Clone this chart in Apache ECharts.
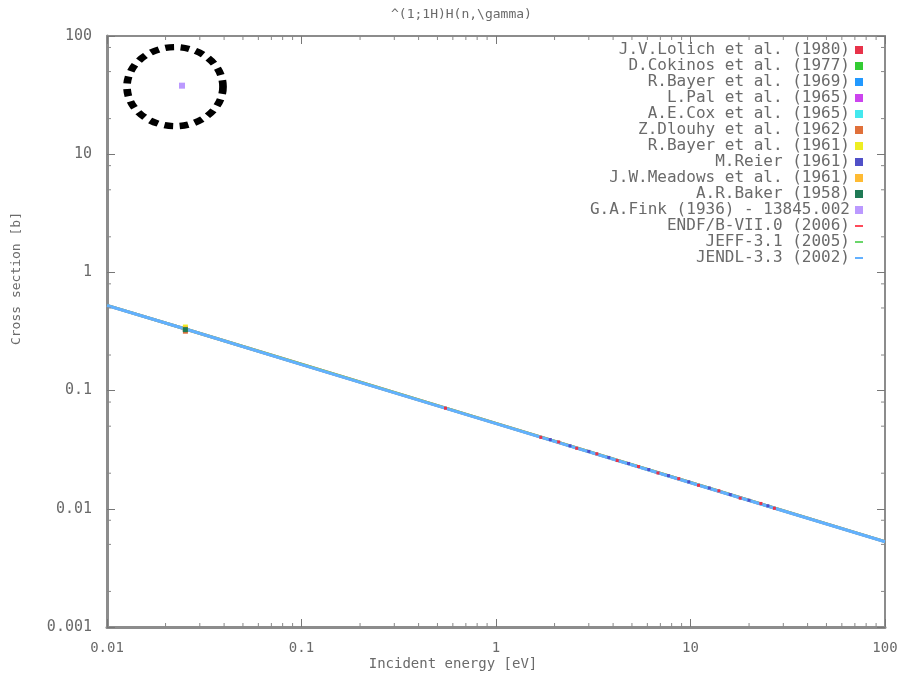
<!DOCTYPE html>
<html>
<head>
<meta charset="utf-8">
<script src="https://cdn.jsdelivr.net/npm/echarts@6/dist/echarts.min.js"></script>
<style>
  html, body { margin: 0; padding: 0; background: #fff; }
  #chart { width: 906px; height: 676px; }
</style>
</head>
<body>
<div id="chart"></div>
<script>
// evaluated data (1/v line)
const evalEnergy = [0.01, 0.0253, 0.1, 1, 10, 100]
const endfValues = [0.526, 0.332, 0.167, 0.0528, 0.0167, 0.00528]
const jeffValues = [0.526, 0.332, 0.167, 0.0528, 0.0167, 0.00528]
const jendlValues = [0.525, 0.332, 0.166, 0.0526, 0.0166, 0.00526]

// experimental points along the line (0.5 - 30 eV)
const lolichEnergy = [0.55, 1.7, 2.1, 2.6, 3.3, 4.2, 5.4, 6.8, 8.7, 11, 14, 18, 23, 27]
const lolichValues = [0.071, 0.0402, 0.0368, 0.0325, 0.0292, 0.0256, 0.0228, 0.0201, 0.0180, 0.0158, 0.0142, 0.0123, 0.0111, 0.0101]
const reierEnergy = [1.9, 2.4, 3.0, 3.8, 4.8, 6.1, 7.7, 9.8, 12.5, 16, 20, 25]
const reierValues = [0.0385, 0.0341, 0.0306, 0.0272, 0.0242, 0.0215, 0.0191, 0.0169, 0.0150, 0.0132, 0.0118, 0.0106]

// thermal points (0.0253 eV)
const thermalEnergy = 0.0253
const cokinosValue = 0.332
const bayer69Value = 0.330
const palValue = 0.329
const coxValue = 0.333
const dlouhyValue = 0.318
const bayer61Value = 0.345
const meadowsValue = 0.334
const bakerValue = 0.328
const finkPoint = [0.0243, 38]

const xTicks = [0.01, 0.1, 1, 10, 100]
const yTicks = [0.001, 0.01, 0.1, 1, 10, 100]

const FONT = 'DejaVu Sans Mono'
const GREY = '#6a6a6a'

const chart = echarts.init(document.getElementById('chart'))

const pairs = (xs, ys) => xs.map((x, i) => [x, ys[i]])

const scatter = (name, color, data, size, symbol) => ({
  name, type: 'scatter', data, symbol: symbol || 'rect', symbolSize: size || 5,
  itemStyle: { color, opacity: 1 }, z: 5
})

const evalLine = (name, color, values, z) => ({
  name, type: 'line', data: pairs(evalEnergy, values), showSymbol: false,
  lineStyle: { color, width: 3 }, itemStyle: { color }, z
})

// minor ticks drawn with the axes' own scales
const minorTicks = {
  type: 'custom',
  silent: true,
  z: 20,
  data: [[1, 1]],
  renderItem: (params, api) => {
    const children = []
    const grey = { stroke: '#888', lineWidth: 1 }
    const bottom = api.coord([1, 0.001])[1]
    const top = api.coord([1, 100])[1]
    const left = api.coord([0.01, 1])[0]
    const right = api.coord([100, 1])[0]
    for (let d = 0.01; d < 100; d *= 10) {
      for (let m = 2; m <= 9; m++) {
        const x = api.coord([d * m, 1])[0]
        children.push({ type: 'line', shape: { x1: x, y1: bottom, x2: x, y2: bottom - 4 }, style: grey })
        children.push({ type: 'line', shape: { x1: x, y1: top, x2: x, y2: top + 4 }, style: grey })
      }
    }
    for (let d = 0.001; d < 100; d *= 10) {
      for (const m of [2, 5, 8]) {
        const y = api.coord([1, d * m])[1]
        children.push({ type: 'line', shape: { x1: left, y1: y, x2: left + 4, y2: y }, style: grey })
        children.push({ type: 'line', shape: { x1: right, y1: y, x2: right - 4, y2: y }, style: grey })
      }
    }
    return { type: 'group', children }
  }
}

const logX = (position, showLabel) => ({
  type: 'log', logBase: 10, min: 0.01, max: 100, position,
  axisLine: { onZero: false, lineStyle: { color: '#8c8c8c', width: position === 'bottom' ? 3 : 2 } },
  axisTick: { inside: true, length: 8, lineStyle: { color: '#777', width: 1 } },
  axisLabel: {
    show: showLabel, margin: 14, color: GREY, fontFamily: FONT, fontSize: 14,
    formatter: v => xTicks.includes(+v) ? String(+v) : ''
  },
  splitLine: { show: false }
})

const logY = (position, showLabel) => ({
  type: 'log', logBase: 10, min: 0.001, max: 100, position,
  axisLine: { onZero: false, lineStyle: { color: '#8c8c8c', width: position === 'left' ? 3 : 2 } },
  axisTick: { inside: true, length: 8, lineStyle: { color: '#777', width: 1 } },
  axisLabel: {
    show: showLabel, margin: 15, color: GREY, fontFamily: FONT, fontSize: 15,
    formatter: v => yTicks.includes(+v) ? String(+v) : ''
  },
  splitLine: { show: false }
})

const lineIcon = 'path://M0,3 L12,3 L12,6 L0,6 Z'

const option = {
  backgroundColor: '#fff',
  animation: false,
  title: {
    text: '^(1;1H)H(n,\\gamma)',
    left: 386, top: 3,
    textStyle: { color: GREY, fontFamily: FONT, fontSize: 13, fontWeight: 'normal' }
  },
  grid: { left: 107, right: 21, top: 36, bottom: 49 },
  xAxis: [logX('bottom', true), logX('top', false)],
  yAxis: [logY('left', true), logY('right', false)],
  legend: {
    orient: 'vertical', right: 38, top: 37, align: 'right',
    itemWidth: 8, itemHeight: 8, itemGap: 0,
    textStyle: { color: GREY, fontFamily: FONT, fontSize: 16, lineHeight: 16 },
    data: [
      { name: 'J.V.Lolich et al. (1980)', icon: 'rect' },
      { name: 'D.Cokinos et al. (1977)', icon: 'rect' },
      { name: 'R.Bayer et al. (1969)', icon: 'rect' },
      { name: 'L.Pal et al. (1965)', icon: 'rect' },
      { name: 'A.E.Cox et al. (1965)', icon: 'rect' },
      { name: 'Z.Dlouhy et al. (1962)', icon: 'rect' },
      { name: 'R.Bayer et al. (1961)', icon: 'rect' },
      { name: 'M.Reier (1961)', icon: 'rect' },
      { name: 'J.W.Meadows et al. (1961)', icon: 'rect' },
      { name: 'A.R.Baker (1958)', icon: 'rect' },
      { name: 'G.A.Fink (1936) - 13845.002', icon: 'rect' },
      { name: 'ENDF/B-VII.0 (2006)', icon: lineIcon },
      { name: 'JEFF-3.1 (2005)', icon: lineIcon },
      { name: 'JENDL-3.3 (2002)', icon: lineIcon }
    ]
  },
  graphic: [
    {
      type: 'text', left: 10, top: 212, rotation: Math.PI / 2,
      style: { text: 'Cross section [b]', fill: GREY, font: '13px ' + FONT }
    },
    {
      type: 'text', left: 'center', top: 657,
      style: { text: 'Incident energy [eV]', fill: GREY, font: '14px ' + FONT, x: 42 }
    }
  ],
  series: [
    evalLine('ENDF/B-VII.0 (2006)', '#ff4a5a', endfValues, 2),
    evalLine('JEFF-3.1 (2005)', '#6ad66a', jeffValues, 2),
    evalLine('JENDL-3.3 (2002)', '#62b0ff', jendlValues, 3),
    scatter('J.V.Lolich et al. (1980)', '#e8334a', pairs(lolichEnergy, lolichValues), 3),
    scatter('D.Cokinos et al. (1977)', '#33cc33', [[thermalEnergy, cokinosValue]]),
    scatter('R.Bayer et al. (1969)', '#2299ff', [[thermalEnergy, bayer69Value]]),
    scatter('L.Pal et al. (1965)', '#cc44ee', [[thermalEnergy, palValue]]),
    scatter('A.E.Cox et al. (1965)', '#44e8ee', [[thermalEnergy, coxValue]]),
    scatter('Z.Dlouhy et al. (1962)', '#e0703a', [[thermalEnergy, dlouhyValue]]),
    scatter('R.Bayer et al. (1961)', '#eeee22', [[thermalEnergy, bayer61Value]]),
    scatter('M.Reier (1961)', '#5050c8', pairs(reierEnergy, reierValues), 3),
    scatter('J.W.Meadows et al. (1961)', '#ffbb33', [[thermalEnergy, meadowsValue]]),
    scatter('A.R.Baker (1958)', '#1f7a55', [[thermalEnergy, bakerValue]]),
    scatter('G.A.Fink (1936) - 13845.002', '#bb99ff', [finkPoint], 6),
    {
      // dashed ring around the Fink point
      type: 'scatter', data: [finkPoint], silent: true,
      symbol: 'circle', symbolSize: [96, 79], symbolOffset: [-7, 1],
      itemStyle: { color: 'rgba(0,0,0,0)', borderColor: '#000', borderWidth: 7, borderType: [8, 6], opacity: 1 },
      z: 6
    },
    minorTicks
  ]
}

chart.setOption(option)
</script>
</body>
</html>
